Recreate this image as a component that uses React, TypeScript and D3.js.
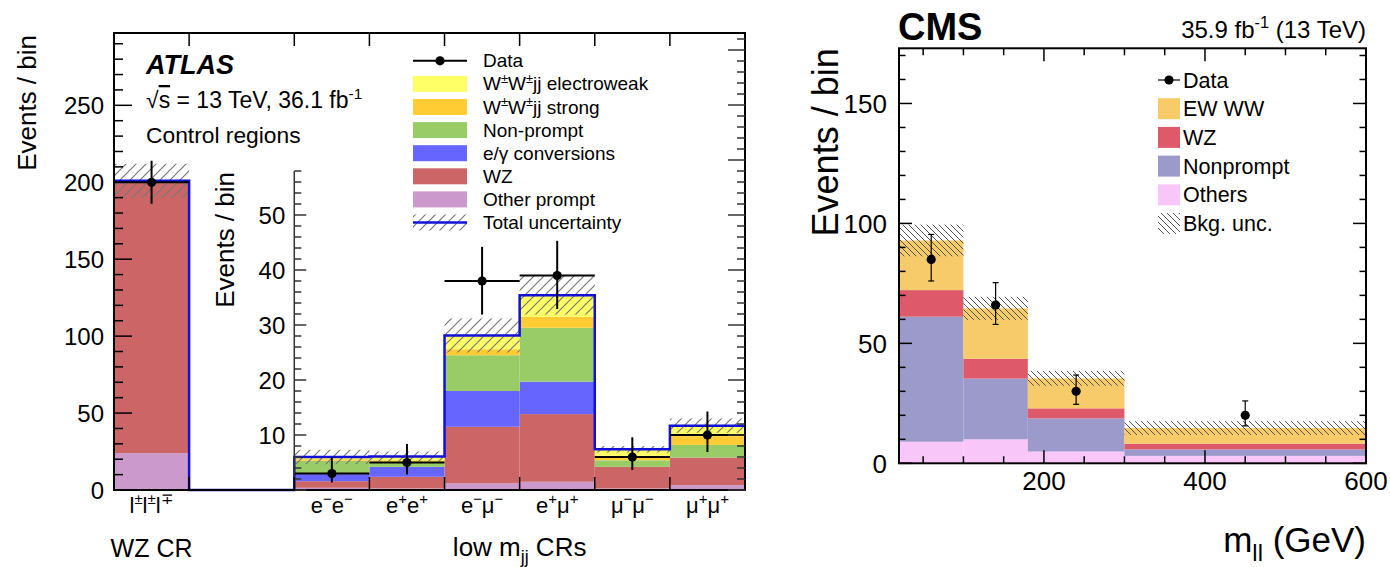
import React from 'react';
import * as d3 from 'd3';

const W = 1390;
const H = 567;
const FONT = "'Liberation Sans', Arial, Helvetica, sans-serif";

type Seg = { t: string; sup?: boolean; sub?: boolean };

// ---------------- ATLAS (left) ----------------
const atlasBinLabels: Seg[][] = [
  [{ t: 'l' }, { t: '±', sup: true }, { t: 'l' }, { t: '±', sup: true }, { t: 'l' }, { t: '∓', sup: true }],
  [{ t: 'e' }, { t: '−', sup: true }, { t: 'e' }, { t: '−', sup: true }],
  [{ t: 'e' }, { t: '+', sup: true }, { t: 'e' }, { t: '+', sup: true }],
  [{ t: 'e' }, { t: '−', sup: true }, { t: 'μ' }, { t: '−', sup: true }],
  [{ t: 'e' }, { t: '+', sup: true }, { t: 'μ' }, { t: '+', sup: true }],
  [{ t: 'μ' }, { t: '−', sup: true }, { t: 'μ' }, { t: '−', sup: true }],
  [{ t: 'μ' }, { t: '+', sup: true }, { t: 'μ' }, { t: '+', sup: true }],
];
// stack components, bottom to top (events per bin)
const atlasOtherPrompt = [24, 0.4, 0.3, 1.2, 1.5, 0.3, 0.9];
const atlasWZ = [177, 1.2, 2.1, 10.3, 12.3, 3.9, 5.0];
const atlasConv = [0, 1.3, 1.8, 6.5, 5.9, 0, 0];
const atlasNonPrompt = [0, 2.4, 0.8, 6.5, 9.8, 1.2, 2.3];
const atlasStrong = [0, 0.3, 0.4, 1.1, 2.0, 0.8, 1.6];
const atlasEW = [0, 0.4, 0.7, 2.5, 3.9, 1.2, 1.9];
const atlasUnc = [11, 1.3, 0.9, 3.1, 3.5, 0.6, 1.3];
const atlasData = [200, 3, 5, 38, 39, 6, 10];
const atlasDataLo = [186, 1.37, 2.84, 31.9, 32.9, 3.62, 6.9];
const atlasDataHi = [214, 5.92, 8.38, 44.2, 45.3, 9.58, 14.27];
const atlasGap = 1.4; // empty space (in bins) between WZ CR and low-mjj CRs

const atlasColors = {
  other: '#cc99cc',
  wz: '#cc6666',
  conv: '#6666ff',
  np: '#99cc66',
  strong: '#ffcc33',
  ew: '#ffff66',
};
const atlasLegend: { segs: Seg[]; kind: string; color?: string }[] = [
  { segs: [{ t: 'Data' }], kind: 'data' },
  { segs: [{ t: 'W' }, { t: '±', sup: true }, { t: 'W' }, { t: '±', sup: true }, { t: 'jj electroweak' }], kind: 'box', color: atlasColors.ew },
  { segs: [{ t: 'W' }, { t: '±', sup: true }, { t: 'W' }, { t: '±', sup: true }, { t: 'jj strong' }], kind: 'box', color: atlasColors.strong },
  { segs: [{ t: 'Non-prompt' }], kind: 'box', color: atlasColors.np },
  { segs: [{ t: 'e/γ conversions' }], kind: 'box', color: atlasColors.conv },
  { segs: [{ t: 'WZ' }], kind: 'box', color: atlasColors.wz },
  { segs: [{ t: 'Other prompt' }], kind: 'box', color: atlasColors.other },
  { segs: [{ t: 'Total uncertainty' }], kind: 'unc' },
];

// ---------------- CMS (right) ----------------
const cmsEdges = [20, 100, 180, 300, 600];
const cmsOthers = [9.0, 10.0, 4.9, 3.1];
const cmsNonprompt = [52.1, 25.3, 13.85, 2.7];
const cmsWZ = [11.1, 8.3, 4.15, 2.4];
const cmsEW = [20.7, 21.0, 12.5, 6.5];
const cmsUnc = [6.6, 4.8, 3.1, 2.9];
const cmsData = [85, 66, 30, 20];
const cmsDataLo = [76, 57.9, 24.6, 15.6];
const cmsDataHi = [95.4, 75.3, 36.8, 26];
const cmsXTicks = [200, 400, 600];
const cmsYTicks = [0, 50, 100, 150];
const cmsColors = { ew: '#f7cb69', wz: '#de5a6a', np: '#9c99cb', others: '#f9c6f9' };
const cmsLegend: { label: string; kind: string; color?: string }[] = [
  { label: 'Data', kind: 'data' },
  { label: 'EW WW', kind: 'box', color: cmsColors.ew },
  { label: 'WZ', kind: 'box', color: cmsColors.wz },
  { label: 'Nonprompt', kind: 'box', color: cmsColors.np },
  { label: 'Others', kind: 'box', color: cmsColors.others },
  { label: 'Bkg. unc.', kind: 'unc' },
];

function Rich({ segs, x, y, size, anchor = 'start', weight, italic, transform }: any) {
  let cur = 0;
  return (
    <text x={x} y={y} fontSize={size} textAnchor={anchor} fontWeight={weight} fontStyle={italic ? 'italic' : undefined} transform={transform} fill="#000" fontFamily={FONT}>
      {segs.map((s: Seg, i: number) => {
        const target = s.sup ? -0.4 * size : s.sub ? 0.25 * size : 0;
        const dy = target - cur;
        cur = target;
        return (
          <tspan key={i} dy={dy} fontSize={s.sup || s.sub ? size * 0.68 : size}>
            {s.t}
          </tspan>
        );
      })}
    </text>
  );
}

function stackRows(comps: number[][]) {
  const n = comps[0].length;
  const out: { lo: number; hi: number }[][] = comps.map(() => []);
  for (let i = 0; i < n; i++) {
    let acc = 0;
    comps.forEach((c, k) => {
      out[k].push({ lo: acc, hi: acc + c[i] });
      acc += c[i];
    });
  }
  return out;
}

function AtlasPanel() {
  const left = 114, right = 745, top = 33, bottom = 490;
  const nLow = atlasData.length - 1;
  const x = d3.scaleLinear().domain([0, 1 + atlasGap + nLow]).range([left, right]);
  const binStart = atlasData.map((_, i) => (i === 0 ? 0 : 1 + atlasGap + (i - 1)));
  const yMain = d3.scaleLinear().domain([0, 297]).range([bottom, top]);
  const inTop = 171;
  const yIn = d3.scaleLinear().domain([0, 58]).range([bottom, inTop]);
  const yFor = (i: number) => (i === 0 ? yMain : yIn);

  const compArr = [atlasOtherPrompt, atlasWZ, atlasConv, atlasNonPrompt, atlasStrong, atlasEW];
  const compCol = [atlasColors.other, atlasColors.wz, atlasColors.conv, atlasColors.np, atlasColors.strong, atlasColors.ew];
  const stacks = stackRows(compArr);
  const totals = atlasData.map((_, i) => d3.sum(compArr, (c) => c[i]));

  // blue outline path
  const pts: [number, number][] = [];
  atlasData.forEach((_, i) => {
    const ys = yFor(i)(totals[i]);
    const x0 = x(binStart[i]);
    const x1 = x(binStart[i] + 1);
    if (i === 0) pts.push([x0, ys]);
    else {
      if (binStart[i] !== binStart[i - 1] + 1) {
        pts.push([x(binStart[i - 1] + 1), bottom]);
        pts.push([x0, bottom]);
      }
      pts.push([x0, ys]);
    }
    pts.push([x1, ys]);
  });
  const outline = d3.line()(pts) as string;

  const mainTicksMinor = d3.range(0, 297, 10);
  const inTicksMinor = d3.range(0, 58.01, 2);
  const rightMax = yIn.invert(top);
  const rightTicks = d3.range(0, rightMax, 2);

  const lx0 = 413, lx1 = 467, lrow0 = 60.8, lstep = 23.1, lsize = 19;

  return (
    <g>
      {stacks.map((layer, k) =>
        layer.map((s, i) =>
          s.hi - s.lo > 0 ? (
            <rect key={`s${k}-${i}`} x={x(binStart[i])} width={x(binStart[i] + 1) - x(binStart[i])} y={yFor(i)(s.hi)} height={yFor(i)(s.lo) - yFor(i)(s.hi)} fill={compCol[k]} />
          ) : null
        )
      )}
      {totals.map((t, i) => (
        <rect key={`u${i}`} x={x(binStart[i])} width={x(binStart[i] + 1) - x(binStart[i])} y={yFor(i)(t + atlasUnc[i])} height={yFor(i)(t - atlasUnc[i]) - yFor(i)(t + atlasUnc[i])} fill="url(#hatchA)" />
      ))}
      <path d={outline} fill="none" stroke="#1010d8" strokeWidth={2.5} />
      {atlasData.map((d, i) => {
        const y = yFor(i);
        const cx = x(binStart[i] + 0.5);
        return (
          <g key={`d${i}`}>
            <line x1={x(binStart[i])} x2={x(binStart[i] + 1)} y1={y(d)} y2={y(d)} stroke="#000" strokeWidth={2} />
            <line x1={cx} x2={cx} y1={y(atlasDataLo[i])} y2={y(atlasDataHi[i])} stroke="#000" strokeWidth={2} />
            <circle cx={cx} cy={y(d)} r={4.6} fill="#000" />
          </g>
        );
      })}
      <rect x={left} y={top} width={right - left} height={bottom - top} fill="none" stroke="#000" strokeWidth={2} />
      {mainTicksMinor.map((v) => (
        <line key={`my${v}`} x1={left} x2={left + (v % 50 === 0 ? 18 : 9)} y1={yMain(v)} y2={yMain(v)} stroke="#000" strokeWidth={1.5} />
      ))}
      {yMain.ticks(6).filter((v) => v % 50 === 0).map((v) => (
        <text key={`myl${v}`} x={left - 10} y={yMain(v)} dy="0.36em" textAnchor="end" fontSize={24} fontFamily={FONT}>{v}</text>
      ))}
      <line x1={x(1 + atlasGap)} x2={x(1 + atlasGap)} y1={inTop} y2={bottom} stroke="#333" strokeWidth={1.5} />
      {inTicksMinor.map((v) => (
        <line key={`iy${v}`} x1={x(1 + atlasGap)} x2={x(1 + atlasGap) + (v % 10 === 0 ? 12 : 7)} y1={yIn(v)} y2={yIn(v)} stroke="#333" strokeWidth={1.5} />
      ))}
      {[10, 20, 30, 40, 50].map((v) => (
        <text key={`iyl${v}`} x={x(1 + atlasGap) - 9} y={yIn(v)} dy="0.36em" textAnchor="end" fontSize={24} fontFamily={FONT}>{v}</text>
      ))}
      {rightTicks.map((v) => (
        <line key={`ry${v}`} x1={right} x2={right - (v % 10 === 0 ? 17 : 8)} y1={yIn(v)} y2={yIn(v)} stroke="#333" strokeWidth={1.5} />
      ))}
      {[1, ...binStart.slice(1)].map((v) => (
        <g key={`xt${v}`}>
          <line x1={x(v)} x2={x(v)} y1={top} y2={top + 13} stroke="#000" strokeWidth={1.5} />
          <line x1={x(v)} x2={x(v)} y1={bottom} y2={bottom - 13} stroke="#000" strokeWidth={1.5} />
        </g>
      ))}
      {atlasBinLabels.map((segs, i) => (
        <Rich key={`bl${i}`} segs={segs} x={x(binStart[i] + 0.5)} y={513} size={22} anchor="middle" />
      ))}
      <Rich segs={[{ t: 'WZ CR' }]} x={x(0.5)} y={557} size={25} anchor="middle" />
      <Rich segs={[{ t: 'low m' }, { t: 'jj', sub: true }, { t: ' CRs' }]} x={x(1 + atlasGap + nLow / 2)} y={556} size={26} anchor="middle" />
      <Rich segs={[{ t: 'Events / bin' }]} x={0} y={0} size={26} anchor="end" transform={`translate(36,${top + 2}) rotate(-90)`} />
      <Rich segs={[{ t: 'Events / bin' }]} x={0} y={0} size={26} anchor="end" transform={`translate(234,${inTop + 1}) rotate(-90)`} />
      <Rich segs={[{ t: 'ATLAS' }]} x={146} y={74} size={27} weight="bold" italic />
      <text x={146} y={108} fontSize={23} fontFamily={FONT}>
        <tspan>√</tspan>
        <tspan style={{ textDecoration: 'overline' }}>s</tspan>
        <tspan> = 13 TeV, 36.1 fb</tspan>
        <tspan dy={-9} fontSize={15.5}>-1</tspan>
      </text>
      <Rich segs={[{ t: 'Control regions' }]} x={146} y={143} size={22.8} />
      {atlasLegend.map((e, i) => {
        const cy = lrow0 + i * lstep;
        return (
          <g key={`lg${i}`}>
            {e.kind === 'box' && <rect x={lx0} y={cy - 8} width={lx1 - lx0} height={16} fill={e.color} />}
            {e.kind === 'data' && (
              <g>
                <line x1={lx0} x2={lx1} y1={cy} y2={cy} stroke="#000" strokeWidth={2} />
                <line x1={(lx0 + lx1) / 2} x2={(lx0 + lx1) / 2} y1={cy - 4} y2={cy + 4} stroke="#000" strokeWidth={2} />
                <circle cx={(lx0 + lx1) / 2} cy={cy} r={4.6} fill="#000" />
              </g>
            )}
            {e.kind === 'unc' && (
              <g>
                <rect x={lx0} y={cy - 8} width={lx1 - lx0} height={16} fill="url(#hatchA)" />
                <line x1={lx0} x2={lx1} y1={cy} y2={cy} stroke="#1010d8" strokeWidth={2.5} />
              </g>
            )}
            <Rich segs={e.segs} x={483} y={cy + 6.5} size={lsize} />
          </g>
        );
      })}
    </g>
  );
}

function CmsPanel() {
  const left = 899, right = 1366, top = 48.3, bottom = 463.3;
  const x = d3.scaleLinear().domain([20, 600]).range([left, right]);
  const y = d3.scaleLinear().domain([0, 173]).range([bottom, top]);
  const comps = [cmsOthers, cmsNonprompt, cmsWZ, cmsEW];
  const cols = [cmsColors.others, cmsColors.np, cmsColors.wz, cmsColors.ew];
  const stacks = stackRows(comps);
  const totals = cmsData.map((_, i) => d3.sum(comps, (c) => c[i]));
  const xMinor = d3.range(50, 600, 50);
  const yMinor = d3.range(0, 173, 10);
  const lx0 = 1158, lx1 = 1180, lrow0 = 80, lstep = 28.7;
  return (
    <g>
      {stacks.map((layer, k) =>
        layer.map((s, i) => (
          <rect key={`c${k}-${i}`} x={x(cmsEdges[i])} width={x(cmsEdges[i + 1]) - x(cmsEdges[i])} y={y(s.hi)} height={y(s.lo) - y(s.hi)} fill={cols[k]} />
        ))
      )}
      {totals.map((t, i) => (
        <rect key={`cu${i}`} x={x(cmsEdges[i])} width={x(cmsEdges[i + 1]) - x(cmsEdges[i])} y={y(t + cmsUnc[i])} height={y(t - cmsUnc[i]) - y(t + cmsUnc[i])} fill="url(#hatchC)" />
      ))}
      {cmsData.map((d, i) => {
        const cx = x((cmsEdges[i] + cmsEdges[i + 1]) / 2);
        return (
          <g key={`cd${i}`}>
            <line x1={cx} x2={cx} y1={y(cmsDataLo[i])} y2={y(cmsDataHi[i])} stroke="#000" strokeWidth={1.2} />
            <line x1={cx - 3} x2={cx + 3} y1={y(cmsDataLo[i])} y2={y(cmsDataLo[i])} stroke="#000" strokeWidth={1.2} />
            <line x1={cx - 3} x2={cx + 3} y1={y(cmsDataHi[i])} y2={y(cmsDataHi[i])} stroke="#000" strokeWidth={1.2} />
            <circle cx={cx} cy={y(d)} r={4.6} fill="#000" />
          </g>
        );
      })}
      <rect x={left} y={top} width={right - left} height={bottom - top} fill="none" stroke="#000" strokeWidth={2} />
      {xMinor.map((v) => {
        const len = cmsXTicks.includes(v) ? 13 : 7;
        return (
          <g key={`cx${v}`}>
            <line x1={x(v)} x2={x(v)} y1={bottom} y2={bottom - len} stroke="#000" strokeWidth={1.5} />
            <line x1={x(v)} x2={x(v)} y1={top} y2={top + len} stroke="#000" strokeWidth={1.5} />
          </g>
        );
      })}
      {yMinor.map((v) => {
        const len = v % 50 === 0 ? 13 : 6.5;
        return (
          <g key={`cy${v}`}>
            <line x1={left} x2={left + len} y1={y(v)} y2={y(v)} stroke="#000" strokeWidth={1.5} />
            <line x1={right} x2={right - len} y1={y(v)} y2={y(v)} stroke="#000" strokeWidth={1.5} />
          </g>
        );
      })}
      {cmsYTicks.map((v) => (
        <text key={`cyl${v}`} x={left - 12} y={y(v)} dy="0.36em" textAnchor="end" fontSize={26} fontFamily={FONT}>{v}</text>
      ))}
      {cmsXTicks.map((v) => (
        <text key={`cxl${v}`} x={x(v)} y={490} textAnchor="middle" fontSize={26} fontFamily={FONT}>{v}</text>
      ))}
      <Rich segs={[{ t: 'Events / bin' }]} x={0} y={0} size={36} anchor="end" transform={`translate(838,${top}) rotate(-90)`} />
      <Rich segs={[{ t: 'm' }, { t: 'll', sub: true }, { t: ' (GeV)' }]} x={right} y={552} size={35} anchor="end" />
      <Rich segs={[{ t: 'CMS' }]} x={left - 1} y={40} size={38} weight="bold" />
      <Rich segs={[{ t: '35.9 fb' }, { t: '-1', sup: true }, { t: ' (13 TeV)' }]} x={right} y={38} size={24} anchor="end" />
      {cmsLegend.map((e, i) => {
        const cy = lrow0 + i * lstep;
        return (
          <g key={`cl${i}`}>
            {e.kind === 'box' && <rect x={lx0} y={cy - 10.5} width={lx1 - lx0} height={21} fill={e.color} />}
            {e.kind === 'unc' && <rect x={lx0} y={cy - 10.5} width={lx1 - lx0} height={21} fill="url(#hatchC)" />}
            {e.kind === 'data' && (
              <g>
                <line x1={lx0} x2={lx1} y1={cy} y2={cy} stroke="#000" strokeWidth={1.2} />
                <circle cx={(lx0 + lx1) / 2} cy={cy} r={4.6} fill="#000" />
              </g>
            )}
            <Rich segs={[{ t: e.label }]} x={1183} y={cy + 7.5} size={21.5} />
          </g>
        );
      })}
    </g>
  );
}

export default function App() {
  return (
    <svg width={W} height={H} viewBox={`0 0 ${W} ${H}`} style={{ position: 'absolute', left: 0, top: 0, background: '#fff' }} fontFamily={FONT}>
      <defs>
        <pattern id="hatchA" patternUnits="userSpaceOnUse" width={10} height={10}>
          <path d="M-2,2 L2,-2 M0,10 L10,0 M8,12 L12,8" stroke="#777" strokeWidth={1.2} />
        </pattern>
        <pattern id="hatchC" patternUnits="userSpaceOnUse" width={6} height={6}>
          <path d="M-2,4 L2,8 M0,0 L6,6 M4,-2 L8,2" stroke="#555" strokeWidth={1} />
        </pattern>
      </defs>
      <rect width={W} height={H} fill="#fff" />
      <AtlasPanel />
      <CmsPanel />
    </svg>
  );
}
